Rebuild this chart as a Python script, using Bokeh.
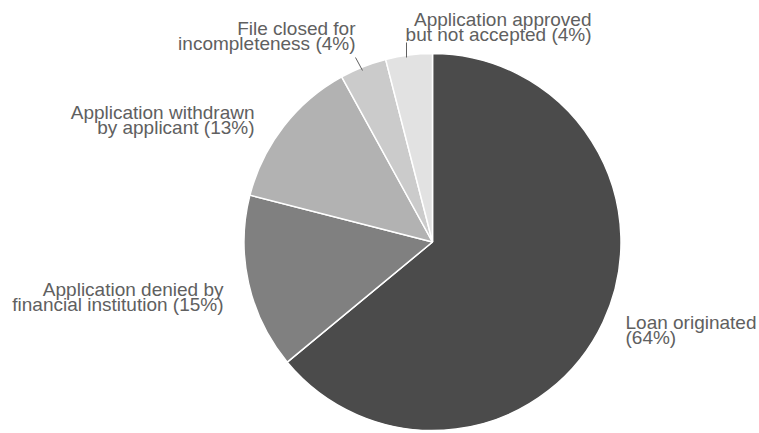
import numpy as np
from bokeh.plotting import figure
from bokeh.models import Range1d, ColumnDataSource
from bokeh.core.properties import value
from bokeh.embed import file_html
from bokeh.resources import INLINE

# Data
categories = ["Loan originated", "Application denied by financial institution",
              "Application withdrawn by applicant", "File closed for incompleteness",
              "Application approved but not accepted"]
shares = [64, 15, 13, 4, 4]
labels = ["Loan originated\n (64%)",
          "Application denied by\nfinancial institution (15%)",
          "Application withdrawn\nby applicant (13%)",
          "File closed for\nincompleteness (4%)",
          "Application approved\nbut not accepted (4%)"]
colors = ["#4b4b4b", "#808080", "#b2b2b2", "#cbcbcb", "#e2e2e2"]

W, H = 759, 433
SH = 433  # screen height reference for flipping

def sy(y):
    return SH - y

p = figure(width=W, height=H, output_backend="svg", toolbar_location=None,
           x_range=Range1d(0, W), y_range=Range1d(SH - H, SH),
           min_border=0)
p.axis.visible = False
p.grid.visible = False
p.outline_line_color = None
p.background_fill_color = "white"

# Pie geometry (layout)
cx, cy, r = 432, sy(241.5), 188.5
vals = np.array(shares, dtype=float)
frac = vals / vals.sum()
cum_end = np.cumsum(frac)
cum_start = cum_end - frac
start = np.pi / 2 - cum_end * 2 * np.pi
end = np.pi / 2 - cum_start * 2 * np.pi

src = ColumnDataSource(dict(start=start, end=end, color=colors, cat=categories))
p.wedge(x=cx, y=cy, radius=r, start_angle="start", end_angle="end",
        direction="anticlock", fill_color="color", line_color="white",
        line_width=1.5, source=src)

# Labels (layout positions in screen pixels)
lab_x = [625, 223, 254, 355, 591]
lab_top = [311, 278, 101, 17, 8]
lab_align = ["left", "right", "right", "right", "right"]
lsrc = ColumnDataSource(dict(x=lab_x, y=[sy(t) for t in lab_top], text=labels,
                             align=lab_align))
p.text(x="x", y="y", text="text", text_align="align", text_baseline="top",
       text_font=value("Liberation Sans"), text_font_size="19px",
       text_line_height=0.72, text_color="#606060", source=lsrc)

# Leader lines
p.segment(x0=[406, 355], y0=[sy(42), sy(57)], x1=[406, 362], y1=[sy(57), sy(70)],
          line_color="#606060", line_width=1)

open("out.html", "w").write(file_html(p, INLINE))
